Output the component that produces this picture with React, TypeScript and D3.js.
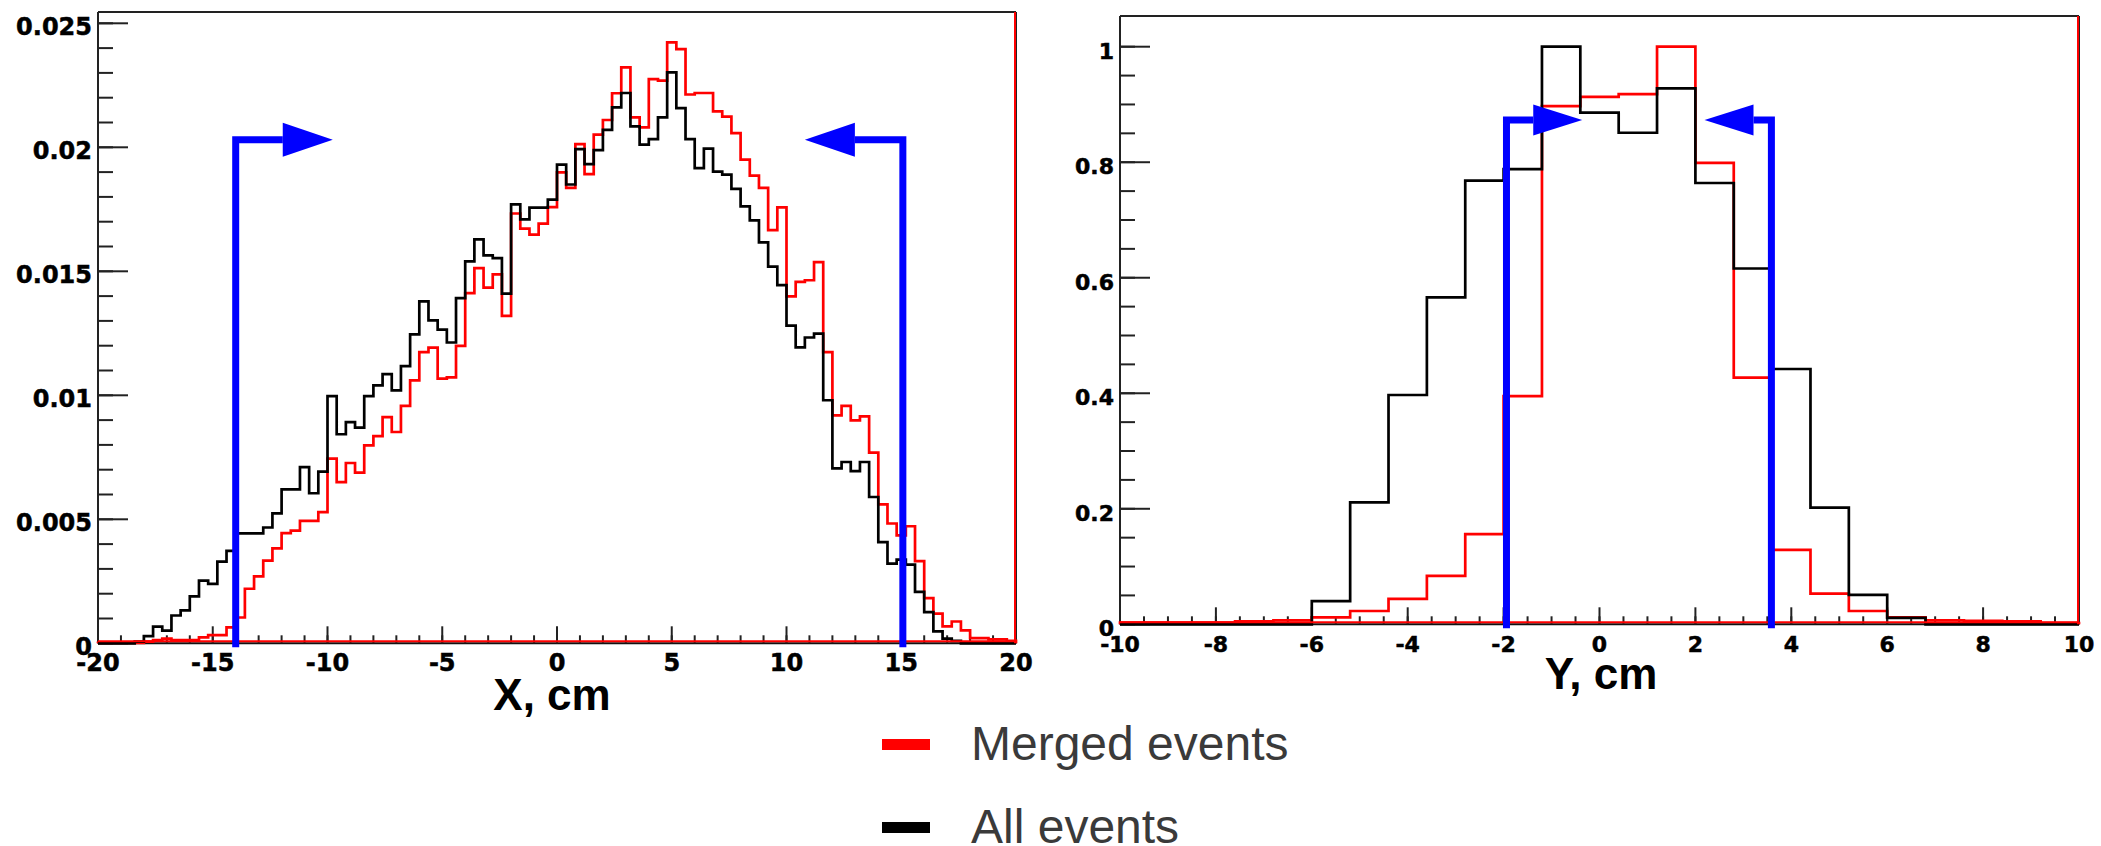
import React from 'react';
import * as d3 from 'd3';

// ---------- data ----------
// X histogram: 100 bins from -20 to 20 cm
const xRange = [-20, 20];
const xAllEvents = [
  0, 0, 0, 0, 0.00007, 0.00029, 0.00067, 0.00051, 0.00112, 0.00133,
  0.00189, 0.00253, 0.0024, 0.00329, 0.00373, 0.00443, 0.00443, 0.00443, 0.00467, 0.00524,
  0.00621, 0.00621, 0.0071, 0.00605, 0.00692, 0.00997, 0.00843, 0.00892, 0.0087, 0.00997,
  0.0104, 0.01085, 0.0102, 0.01118, 0.01246, 0.01379, 0.01302, 0.01265, 0.01213, 0.01392,
  0.0154, 0.01629, 0.01564, 0.01553, 0.0141, 0.0177, 0.01709, 0.01757, 0.01757, 0.01789,
  0.0193, 0.0185, 0.01993, 0.01932, 0.01989, 0.0207, 0.02161, 0.02219, 0.02084, 0.02011,
  0.02033, 0.02121, 0.02302, 0.02158, 0.02033, 0.01916, 0.01995, 0.01902, 0.0189, 0.01832,
  0.01762, 0.01705, 0.01617, 0.01519, 0.01444, 0.01281, 0.01193, 0.01233, 0.01249, 0.0098,
  0.00705, 0.00731, 0.00694, 0.00731, 0.0059, 0.00408, 0.00321, 0.00337, 0.00317, 0.00207,
  0.00126, 0.00048, 0.00019, 0.0001, 0, 0, 0, 0, 0, 0,
];
const xMergedEvents = [
  0.00002, 0.00002, 0.00002, 0.00002, 0.00002, 0.00007, 0.00013, 0.00019, 0.00013, 0.00013,
  0.00013, 0.00024, 0.00033, 0.00033, 0.00064, 0.00104, 0.0022, 0.0027, 0.00333, 0.00383,
  0.00444, 0.00454, 0.00494, 0.00494, 0.00529, 0.00745, 0.0065, 0.00727, 0.00688, 0.00798,
  0.00835, 0.00912, 0.00852, 0.00957, 0.0106, 0.01174, 0.01192, 0.01067, 0.01072, 0.01199,
  0.01412, 0.01513, 0.01434, 0.01488, 0.0132, 0.01733, 0.01672, 0.01648, 0.01692, 0.01759,
  0.01899, 0.01836, 0.02013, 0.01892, 0.02051, 0.0211, 0.02218, 0.02322, 0.02121, 0.0208,
  0.02275, 0.02269, 0.02423, 0.02396, 0.02213, 0.02219, 0.02219, 0.02145, 0.02124, 0.02057,
  0.0195, 0.01886, 0.01836, 0.01666, 0.01758, 0.01399, 0.01457, 0.01464, 0.01537, 0.01174,
  0.00919, 0.00957, 0.00899, 0.00915, 0.00769, 0.0056, 0.00483, 0.00435, 0.00472, 0.00331,
  0.00182, 0.0012, 0.00068, 0.00088, 0.00052, 0.00021, 0.00021, 0.00016, 0.00016, 0.0001,
];

// Y histogram: 25 bins from -10 to 10 cm
const yRange = [-10, 10];
const yAllEvents = [
  0, 0, 0, 0, 0, 0.04, 0.211, 0.397, 0.566, 0.768, 0.788, 1.0, 0.886,
  0.851, 0.928, 0.764, 0.616, 0.442, 0.202, 0.051, 0.011, 0, 0, 0, 0,
];
const yMergedEvents = [
  0.003, 0.003, 0.003, 0.005, 0.007, 0.012, 0.023, 0.044, 0.084, 0.156, 0.395, 0.897, 0.913,
  0.918, 1.0, 0.799, 0.427, 0.129, 0.053, 0.023, 0.012, 0.007, 0.006, 0.005, 0.002,
];

// axis ticks and labels
const xMajorTicks = [-20, -15, -10, -5, 0, 5, 10, 15, 20];
const xTickLabels = ['-20', '-15', '-10', '-5', '0', '5', '10', '15', '20'];
const xLeftMajorTicks = [0, 0.005, 0.01, 0.015, 0.02, 0.025];
const xLeftTickLabels = ['0', '0.005', '0.01', '0.015', '0.02', '0.025'];
const yMajorTicks = [-10, -8, -6, -4, -2, 0, 2, 4, 6, 8, 10];
const yTickLabels = ['-10', '-8', '-6', '-4', '-2', '0', '2', '4', '6', '8', '10'];
const yLeftMajorTicks = [0, 0.2, 0.4, 0.6, 0.8, 1];
const yLeftTickLabels = ['0', '0.2', '0.4', '0.6', '0.8', '1'];

// selection cuts: cut position, arrow tip position, arrow level
const xCuts = [-14, 15.07];
const xArrowTips = [-9.77, 10.8];
const xCutLevel = 0.0203;
const yCuts = [-1.94, 3.585];
const yArrowTips = [-0.36, 2.19];
const yCutLevel = 0.873;

const legendLabels = ['Merged events', 'All events'];
const legendColors = ['#ff0000', '#000000'];

// ---------- drawing ----------
type Scale = d3.ScaleLinear<number, number>;

function Histo({ range, values, x, y, color }: { range: number[]; values: number[]; x: Scale; y: Scale; color: string }) {
  const n = values.length;
  const edges = d3.range(n + 1).map((i) => range[0] + (i * (range[1] - range[0])) / n);
  const pts: [number, number][] = [[x(edges[0]), y(0)]];
  values.forEach((v, i) => {
    pts.push([x(edges[i]), y(v)]);
    pts.push([x(edges[i + 1]), y(v)]);
  });
  pts.push([x(edges[n]), y(0)]);
  return <path d={d3.line()(pts) || ''} fill="none" stroke={color} strokeWidth={2.7} strokeLinejoin="miter" />;
}

type PanelProps = {
  left: number; right: number; top: number; zeroY: number;
  xDomain: number[]; yMax: number;
  xMajor: number[]; xLabels: string[]; xMinorStep: number;
  yMajor: number[]; yLabels: string[]; yMinorStep: number;
  labelSize: number;
  merged: number[]; all: number[];
  cuts: number[]; tips: number[]; level: number; headLen: number; headH: number;
  title: string; titleX: number; titleY: number;
};

function Panel(p: PanelProps) {
  const x = d3.scaleLinear().domain(p.xDomain).range([p.left, p.right]);
  const y = d3.scaleLinear().domain([0, p.yMax]).range([p.zeroY, p.top]);
  const bottom = p.zeroY;
  const xMinor = d3.range(p.xDomain[0], p.xDomain[1] + 1e-9, p.xMinorStep);
  const yTop = p.yMajor[p.yMajor.length - 1];
  const yMinor = d3.range(0, yTop + 1e-9, p.yMinorStep);
  const labelFont = {
    fontFamily: '"DejaVu Sans", sans-serif',
    fontWeight: 'bold' as const,
    fontSize: p.labelSize,
    stroke: '#000',
    strokeWidth: 0.5,
  };
  return (
    <g>
      {/* frame */}
      <line x1={p.left} x2={p.right} y1={p.top} y2={p.top} stroke="#222" strokeWidth={2} />
      <line x1={p.left} x2={p.left} y1={p.top} y2={bottom} stroke="#222" strokeWidth={2} />
      <line x1={p.right} x2={p.right} y1={p.top} y2={bottom} stroke="#222" strokeWidth={2} />
      <line x1={p.left} x2={p.right} y1={bottom} y2={bottom} stroke="#111" strokeWidth={2} />
      {/* x ticks */}
      {xMinor.map((v, i) => (
        <line key={'xm' + i} x1={x(v)} x2={x(v)} y1={bottom} y2={bottom - 8} stroke="#222" strokeWidth={2} />
      ))}
      {p.xMajor.map((v, i) => (
        <line key={'xM' + i} x1={x(v)} x2={x(v)} y1={bottom} y2={bottom - 17} stroke="#222" strokeWidth={2} />
      ))}
      {p.xMajor.map((v, i) => (
        <text key={'xl' + i} x={x(v)} y={bottom + 28} textAnchor="middle" {...labelFont}>{p.xLabels[i]}</text>
      ))}
      {/* y ticks */}
      {yMinor.map((v, i) => (
        <line key={'ym' + i} x1={p.left} x2={p.left + 15} y1={y(v)} y2={y(v)} stroke="#222" strokeWidth={2} />
      ))}
      {p.yMajor.map((v, i) => (
        <line key={'yM' + i} x1={p.left} x2={p.left + 30} y1={y(v)} y2={y(v)} stroke="#222" strokeWidth={2} />
      ))}
      {p.yMajor.map((v, i) => (
        <text key={'yl' + i} x={p.left - 6} y={y(v) + 12} textAnchor="end" {...labelFont}>{p.yLabels[i]}</text>
      ))}
      {/* histograms */}
      <Histo range={p.xDomain} values={p.merged} x={x} y={y} color="#ff0000" />
      <Histo range={p.xDomain} values={p.all} x={x} y={y} color="#000000" />
      <line x1={p.left} x2={p.right} y1={bottom - 2} y2={bottom - 2} stroke="#ff0000" strokeWidth={2} />
      <line x1={p.right - 1} x2={p.right - 1} y1={p.top} y2={bottom} stroke="#ff0000" strokeWidth={2} />
      {/* cuts */}
      {p.cuts.map((c, i) => {
        const tip = p.tips[i];
        const dir = Math.sign(tip - c);
        const tx = x(tip);
        const base = tx - dir * p.headLen;
        const ly = y(p.level);
        return (
          <g key={'cut' + i}>
            <path
              d={`M${x(c)},${bottom + 4} L${x(c)},${ly} L${base},${ly}`}
              fill="none" stroke="#0000ff" strokeWidth={7} strokeLinejoin="miter"
            />
            <polygon points={`${base},${ly - p.headH / 2} ${tx},${ly} ${base},${ly + p.headH / 2}`} fill="#0000ff" />
          </g>
        );
      })}
      {/* axis title */}
      <text x={p.titleX} y={p.titleY} textAnchor="middle" fontFamily='"Liberation Sans", Arial, sans-serif' fontWeight="bold" fontSize={44}>
        {p.title}
      </text>
    </g>
  );
}

export default function App() {
  return (
    <svg width={2101} height={846} style={{ position: 'absolute', left: 0, top: 0, background: '#fff' }}>
      <rect width={2101} height={846} fill="#fff" />
      <Panel
        left={98} right={1016} top={12} zeroY={643.3}
        xDomain={xRange} yMax={(643.3 - 12) / 24800}
        xMajor={xMajorTicks} xLabels={xTickLabels} xMinorStep={1}
        yMajor={xLeftMajorTicks} yLabels={xLeftTickLabels} yMinorStep={0.001}
        labelSize={24}
        merged={xMergedEvents} all={xAllEvents}
        cuts={xCuts} tips={xArrowTips} level={xCutLevel} headLen={50} headH={34}
        title="X, cm" titleX={552} titleY={710}
      />
      <Panel
        left={1120} right={2079} top={16} zeroY={624.3}
        xDomain={yRange} yMax={(624.3 - 16) / 577.6}
        xMajor={yMajorTicks} xLabels={yTickLabels} xMinorStep={0.5}
        yMajor={yLeftMajorTicks} yLabels={yLeftTickLabels} yMinorStep={0.05}
        labelSize={22}
        merged={yMergedEvents} all={yAllEvents}
        cuts={yCuts} tips={yArrowTips} level={yCutLevel} headLen={49} headH={31}
        title="Y, cm" titleX={1601} titleY={689}
      />
      {/* legend */}
      {legendLabels.map((lab, i) => (
        <g key={'lg' + i}>
          <rect x={882} y={739 + i * 83} width={48} height={11} fill={legendColors[i]} />
          <text x={971} y={760 + i * 83} fontFamily='"Liberation Sans", Arial, sans-serif' fontSize={48} fill="#3a3a3a">
            {lab}
          </text>
        </g>
      ))}
    </svg>
  );
}
